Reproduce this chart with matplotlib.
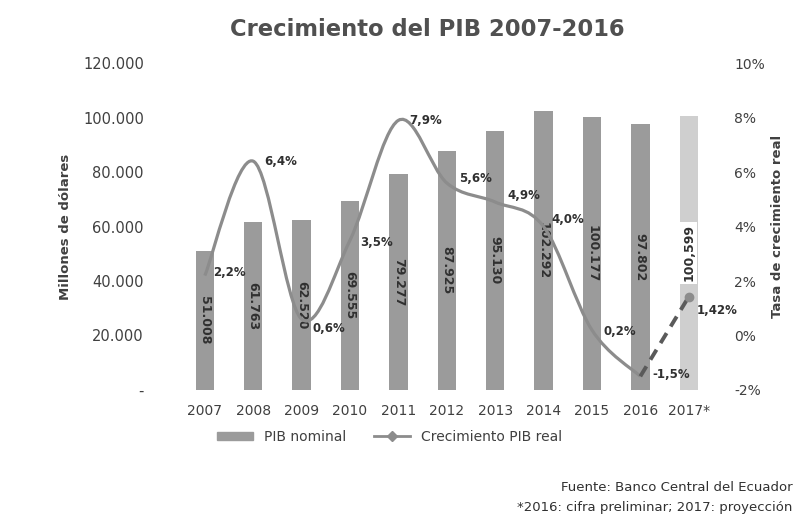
import matplotlib
matplotlib.use("Agg")
from matplotlib import pyplot as plt
from matplotlib.path import Path
from matplotlib.patches import PathPatch
from matplotlib.lines import Line2D
from matplotlib.patches import Patch
import numpy as np

years = ['2007', '2008', '2009', '2010', '2011', '2012', '2013', '2014', '2015', '2016', '2017*']
pib_nominal = [51008, 61763, 62520, 69555, 79277, 87925, 95130, 102292, 100177, 97802, 100599]
pib_labels = ['51.008', '61.763', '62.520', '69.555', '79.277', '87.925', '95.130',
              '102.292', '100.177', '97.802', '100,599']
crecimiento = [2.2, 6.4, 0.6, 3.5, 7.9, 5.6, 4.9, 4.0, 0.2, -1.5, 1.42]
crec_labels = ['2,2%', '6,4%', '0,6%', '3,5%', '7,9%', '5,6%', '4,9%', '4,0%', '0,2%', '-1,5%', '1,42%']
left_ticks = [0, 20000, 40000, 60000, 80000, 100000, 120000]
left_tick_labels = ['-', '20.000', '40.000', '60.000', '80.000', '100.000', '120.000']
right_ticks = [-2, 0, 2, 4, 6, 8, 10]
right_tick_labels = ['-2%', '0%', '2%', '4%', '6%', '8%', '10%']

txt = '#404040'
plt.rcParams['font.family'] = ['DejaVu Sans']

fig = plt.figure(figsize=(7.95, 5.22), dpi=100)
ax = fig.add_axes([0.209, 0.253, 0.706, 0.626])
ax2 = ax.twinx()

x = np.arange(len(years))
colors = ['#9b9b9b'] * 10 + ['#cfcfcf']
ax.bar(x, pib_nominal, width=0.38, color=colors, zorder=1)
for i, (v, lab) in enumerate(zip(pib_nominal, pib_labels)):
    if i < 10:
        ax.text(i, v / 2, lab, rotation=270, ha='center', va='center',
                fontsize=9, fontweight='bold', color='#303030')
    else:
        ax.text(i, v / 2, lab, rotation=90, ha='center', va='center',
                fontsize=9, fontweight='bold', color='#303030',
                bbox=dict(facecolor='white', edgecolor='none', pad=1.5))

ax.set_xlim(-0.8, 10.8)
ax.set_ylim(0, 120000)
ax.set_yticks(left_ticks)
ax.set_yticklabels(left_tick_labels)
ax.set_xticks(x)
ax.set_xticklabels(years)
ax2.set_ylim(-2, 10)
ax2.set_yticks(right_ticks)
ax2.set_yticklabels(right_tick_labels)

for a in (ax, ax2):
    for s in a.spines.values():
        s.set_visible(False)
    a.tick_params(length=0, labelcolor=txt, labelsize=10)
ax.tick_params(axis='y', pad=16, labelsize=10.5)
ax2.tick_params(axis='y', pad=5, labelsize=10)
ax.tick_params(axis='x', pad=10)

ax.set_ylabel('Millones de dólares', fontsize=9.5, fontweight='bold', color=txt, labelpad=8)
ax2.set_ylabel('Tasa de crecimiento real', fontsize=9.5, fontweight='bold', color=txt, labelpad=4)

# curva suavizada 2007-2016 (Catmull-Rom -> Bezier)
px = x[:10].astype(float)
py = np.array(crecimiento[:10])
verts = [(px[0], py[0])]
codes = [Path.MOVETO]
for i in range(len(px) - 1):
    p0 = (px[max(i - 1, 0)], py[max(i - 1, 0)])
    p1 = (px[i], py[i])
    p2 = (px[i + 1], py[i + 1])
    p3 = (px[min(i + 2, 9)], py[min(i + 2, 9)])
    c1 = (p1[0] + (p2[0] - p0[0]) / 6, p1[1] + (p2[1] - p0[1]) / 6)
    c2 = (p2[0] - (p3[0] - p1[0]) / 6, p2[1] - (p3[1] - p1[1]) / 6)
    verts += [c1, c2, p2]
    codes += [Path.CURVE4] * 3
ax2.add_patch(PathPatch(Path(verts, codes), facecolor='none', edgecolor='#8c8c8c',
                        lw=2.3, zorder=3))
ax2.plot(x[9:], crecimiento[9:], color='#5a5a5a', lw=2.8, dashes=(3, 2), zorder=3)
ax2.plot([x[10]], [crecimiento[10]], 'o', color='#8c8c8c', ms=6, zorder=4)

offsets = [(6, 2), (8, 0), (8, -7), (7, -2), (8, 0), (9, 3), (9, 5), (6, 5), (8, -1), (9, 1), (6, -10)]
for i, (v, lab) in enumerate(zip(crecimiento, crec_labels)):
    ax2.annotate(lab, (i, v), xytext=offsets[i], textcoords='offset points',
                 ha='left', va='center', fontsize=8.5, fontweight='bold', color='#303030',
                 zorder=5)

fig.text(0.537, 0.943, 'Crecimiento del PIB 2007-2016', ha='center', va='center',
         fontsize=16.3, fontweight='bold', color='#505050')

handles = [Patch(color='#9b9b9b'),
           Line2D([0], [0], color='#8c8c8c', lw=2, marker='D', ms=5)]
fig.legend(handles, ['PIB nominal', 'Crecimiento PIB real'], loc='center',
           bbox_to_anchor=(0.49, 0.163), ncol=2, frameon=False, fontsize=10,
           handlelength=2.6, handleheight=0.5, columnspacing=2.0, labelcolor=txt)

fig.text(0.997, 0.067, 'Fuente: Banco Central del Ecuador', ha='right', va='center',
         fontsize=9.5, color='#303030')
fig.text(0.997, 0.027, '*2016: cifra preliminar; 2017: proyección', ha='right', va='center',
         fontsize=9.5, color='#303030')

fig.savefig('out.png', dpi=100)
